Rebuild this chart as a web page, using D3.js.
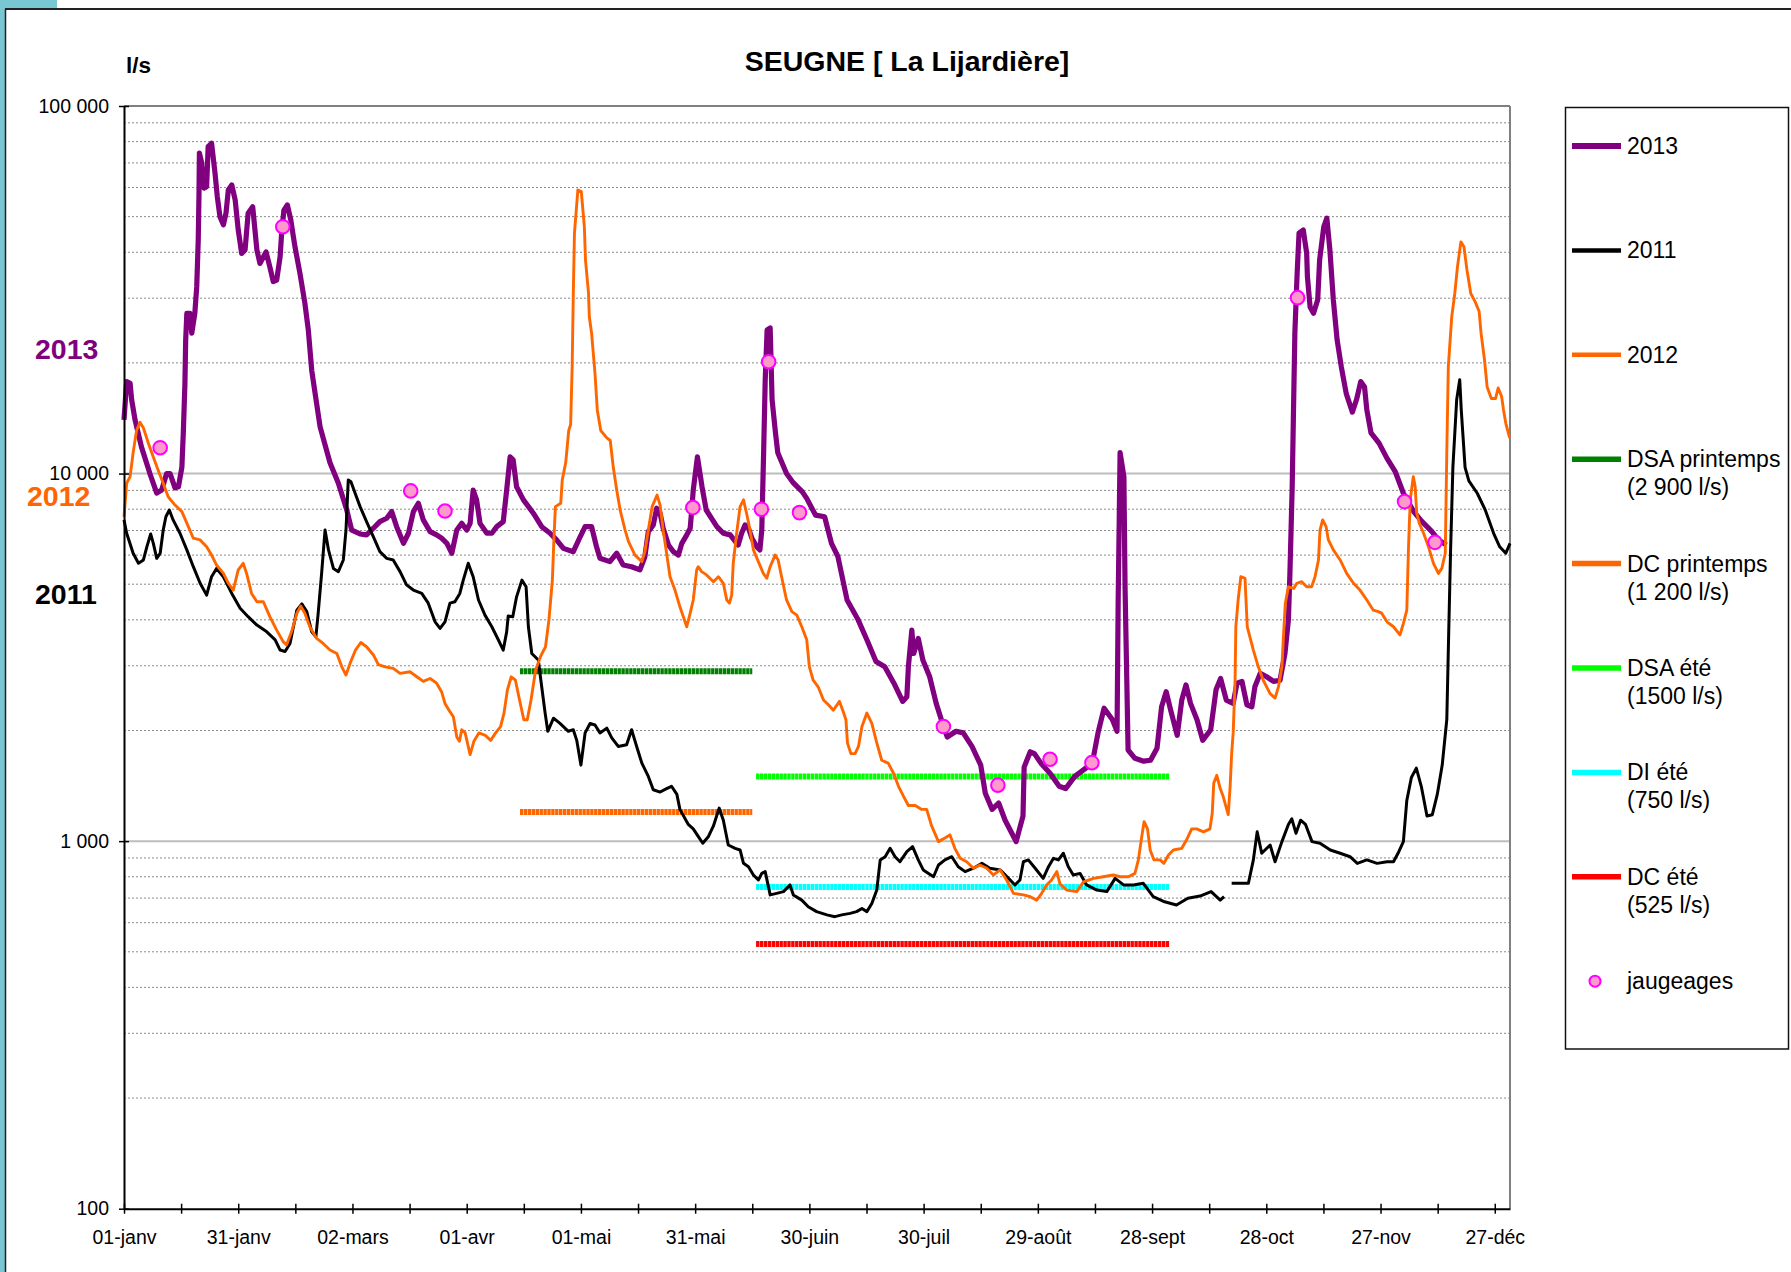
<!DOCTYPE html>
<html>
<head>
<meta charset="utf-8">
<script src="https://cdn.jsdelivr.net/npm/d3@7"></script>
<style>
  body { margin: 0; background: #fff; }
  text { font-family: "Liberation Sans", Arial, sans-serif; }
</style>
</head>
<body>
<div id="chart"></div>
<script>
// débits journaliers : [jour de l'année, l/s]
const serie2013 = [[0,14000],[0.7,17800],[1.6,17600],[2,15900],[2.9,14000],[4.6,11800],[6.8,10000],[8.6,8850],[9.9,9020],[11.2,10000],[12.1,10000],[13.4,9140],[14.3,9210],[15.2,10400],[15.6,13100],[16,17600],[16.2,23100],[16.5,27300],[17.3,27300],[17.8,24100],[18.6,27300],[19.1,32200],[19.5,43200],[19.7,58000],[19.8,74500],[20.4,70000],[21,59800],[21.7,60300],[22.1,77500],[23,79200],[23.9,65700],[24.5,56700],[25.2,50000],[26.1,47500],[26.8,51200],[27.4,59100],[28.3,61000],[29.2,55500],[30,46000],[30.9,39700],[31.8,40600],[32.6,51100],[33.8,53200],[34.9,40600],[35.7,37300],[37.3,40100],[38.3,36500],[39.2,33300],[40.1,33600],[41,38900],[41.4,45100],[42,52100],[42.9,53800],[43.8,49000],[44.9,41400],[46.2,35100],[47.5,29100],[48.4,24600],[49.3,19100],[50.2,16500],[51.5,13400],[54.1,10700],[56.3,9410],[58.5,7960],[59.8,7020],[62,6850],[63.7,6810],[65.5,7100],[67.2,7400],[69,7560],[70.3,7880],[71.6,7170],[73.4,6460],[74.7,6880],[76,7880],[77.3,8300],[78.6,7480],[80.4,6950],[82.1,6810],[83.4,6670],[84.8,6460],[86.1,6070],[87.4,7020],[88.7,7320],[90,7020],[90.9,7320],[91.7,9020],[92.6,8480],[93.5,7320],[95.3,6880],[96.6,6880],[97.9,7170],[99.6,7400],[100.5,9020],[101.4,11100],[102.2,10900],[103.1,9210],[104.9,8480],[107.5,7800],[109.7,7170],[111.9,6880],[113.6,6600],[115.4,6260],[118,6130],[119.8,6730],[121.1,7170],[122.8,7170],[124.1,6320],[125,5880],[127.6,5760],[129.4,6070],[131.1,5640],[133.3,5580],[135.5,5470],[136.8,5940],[137.7,6950],[139,7250],[139.9,8050],[140.8,7800],[141.6,7100],[143,6390],[144.3,6130],[145.6,6000],[146.5,6460],[147.8,6810],[148.7,7100],[149.1,7960],[149.5,9020],[150.6,11100],[151.8,9210],[152.9,7960],[155.7,7170],[157.4,6880],[159.2,6810],[161.3,6390],[162.2,6880],[163.1,7250],[164,7100],[164.9,6670],[166.2,6320],[167,6200],[167.5,7020],[167.7,8650],[168,11600],[168.4,18000],[168.9,24600],[169.7,24900],[170.2,15900],[171.1,12900],[171.7,11400],[174,10000],[175.8,9430],[178.1,8930],[179.3,8560],[181.6,7710],[184,7630],[185.8,6460],[187.5,5940],[189.9,4530],[192.8,4000],[195.1,3530],[197.5,3080],[199.8,2980],[202.2,2690],[204.5,2400],[205.6,2470],[206,2980],[206.9,3750],[207.4,3240],[208.6,3560],[209.8,3110],[211.6,2800],[213.3,2370],[215.1,2070],[216.2,1920],[218.5,1990],[220.4,1970],[222.7,1810],[225,1610],[226.2,1350],[228,1220],[229.7,1270],[231.4,1140],[234.3,997],[236.1,1170],[236.4,1590],[238,1750],[239.1,1730],[240.8,1630],[243.2,1530],[245.6,1410],[247.3,1390],[249.7,1500],[252.6,1580],[254.3,1630],[255.8,1970],[257.4,2300],[259.6,2140],[260.8,1990],[261.1,4530],[261.6,11400],[262.6,9810],[262.9,4920],[263.7,1770],[265.5,1680],[267.8,1650],[269.6,1660],[271.3,1790],[272.5,2320],[273.7,2550],[274.9,2270],[276.6,1940],[277.8,2420],[278.9,2660],[280.1,2370],[281.8,2140],[283.3,1880],[285.4,2010],[286.8,2580],[288,2770],[289.5,2420],[291.3,2370],[292.3,2690],[293.6,2720],[294.9,2350],[296.2,2320],[297,2630],[298.4,2860],[300.1,2800],[301.9,2720],[303.6,2740],[304.9,3240],[305.8,4000],[306.2,5350],[306.8,9210],[307.1,14000],[307.5,24100],[308.1,35100],[308.6,45100],[309.7,46000],[310.6,39800],[310.8,34300],[311.5,28400],[312.4,27300],[313.5,29700],[314,38100],[315.1,47000],[315.9,49500],[316.7,40600],[317.6,29700],[318.6,23100],[319.7,19500],[321,16500],[322.6,14700],[323.7,15900],[324.8,17800],[325.8,17200],[326.4,14900],[327.5,12900],[329.6,12100],[331.7,11000],[333.9,10100],[336,8840],[338.7,7880],[340.9,7400],[343.5,6950],[345.2,6600],[347.3,6390]]

const serie2011 = [[0,7480],[0.7,6880],[2.4,6070],[3.8,5700],[5.1,5820],[6,6320],[7,6850],[7.7,6460],[8.6,5880],[9.5,6070],[10.3,7020],[11,7630],[11.9,7960],[12.9,7480],[14.7,6880],[16.5,6200],[18.2,5580],[20,5030],[21.7,4670],[23,5240],[24.3,5520],[26.1,5240],[28.3,4720],[30.5,4300],[32.6,4080],[34.9,3870],[37.5,3710],[39.7,3530],[41,3310],[42.3,3280],[43.6,3450],[44.5,3830],[45.4,4250],[46.7,4420],[48,4210],[49.3,3710],[50.4,3600],[51,4170],[51.9,5350],[52.8,7020],[53.7,6200],[55,5520],[56.3,5410],[57.6,5820],[58.3,7020],[58.9,9610],[59.6,9500],[60.7,8840],[62,8130],[63.7,7400],[65.5,6730],[67.2,6130],[69,5880],[70.7,5820],[72.5,5410],[74.2,4980],[76,4820],[78.2,4720],[79.9,4440],[81.7,3950],[83,3790],[84.3,3950],[85.6,4440],[86.9,4480],[88.2,4720],[89.1,5130],[90.4,5700],[91.7,5240],[93.1,4530],[94.8,4120],[96.6,3830],[98.3,3530],[99.6,3310],[100.5,3710],[100.9,4100],[102.1,4080],[103.1,4620],[104.5,5130],[105.6,4920],[106.2,3830],[107.1,3240],[108.8,3110],[109.7,2630],[110.6,2230],[111.3,1990],[112.8,2160],[114.5,2090],[116.7,1990],[118,2010],[118.9,1880],[120,1610],[121.1,1970],[122.4,2090],[123.7,2070],[125,1970],[126.8,2030],[128.1,1910],[129.8,1810],[132,1830],[133.3,2010],[134.7,1800],[136,1630],[137.7,1500],[139,1380],[140.8,1360],[142.5,1390],[143.8,1410],[145.2,1340],[146,1220],[148.2,1110],[149.5,1080],[150.8,1030],[152,987],[153.5,1030],[154.8,1100],[156.3,1230],[157.4,1140],[158.7,976],[160.5,956],[161.8,946],[162.7,870],[164,852],[165.3,809],[166.6,784],[167.5,817],[168.4,826],[169.7,714],[171.4,721],[173.2,729],[174.9,760],[175.8,714],[178,691],[179.7,663],[181.9,643],[184.6,630],[186.7,623],[188.5,630],[190.7,636],[192.4,643],[193.8,656],[195.1,643],[196.4,677],[197.7,736],[198.6,889],[199.9,907],[201.2,956],[202.5,907],[203.8,879],[205.6,936],[207.1,966],[208.6,889],[209.9,835],[212.6,800],[213.9,861],[215.6,889],[217.4,907],[219.1,852],[220.9,826],[223.1,844],[225.3,870],[227.4,844],[230.1,835],[232.3,792],[234,760],[235.3,784],[236.2,879],[237.5,889],[239.3,844],[241.4,792],[242.8,852],[244.1,898],[245.4,889],[246.7,927],[248,852],[249.3,809],[251.1,817],[252.8,760],[255.5,736],[258.1,729],[260.3,792],[262.5,760],[265.1,760],[267.7,768],[270.3,706],[273.3,684],[276.4,670],[279.4,699],[282.6,709],[285.5,729],[287.9,691],[288.9,706],null,[290.9,768],[295.3,768],[296.6,889],[297.6,1060],[298.8,927],[301,976],[302.3,879],[304.1,997],[305.8,1110],[306.7,1150],[307.8,1050],[309,1140],[310.3,1110],[312,997],[314.1,987],[316.8,946],[319.4,927],[322,907],[323.9,870],[326.4,889],[329.1,870],[331.7,879],[333.4,879],[334.8,936],[336,997],[336.9,1290],[338.1,1490],[339.4,1580],[340.7,1410],[342.2,1170],[343.6,1180],[344.9,1340],[346.2,1610],[347.4,2140],[347.9,3680],[348.4,6200],[349,10400],[350,15900],[350.8,18000],[351.2,14900],[351.6,12900],[352.2,10400],[353.2,9550],[355.4,8840],[357.5,7960],[359.7,6880],[361.3,6320],[362.9,6070],[364,6460]]

const serie2012 = [[0,7620],[0.7,9410],[1.6,9810],[2.4,11400],[3.3,13100],[4.2,13800],[5.1,13300],[6.4,12100],[7.7,11100],[9,10200],[10.3,9410],[11.6,8650],[13.4,8210],[15.2,7880],[16.9,7170],[18.2,6670],[20,6600],[21.7,6320],[23,6000],[24.3,5640],[26.1,5350],[27.4,5030],[28.7,4820],[30,5470],[31.3,5700],[32.2,5350],[33.5,4720],[34.9,4480],[36.6,4480],[38.3,4080],[40.1,3750],[41.8,3490],[42.7,3420],[44,3710],[45.4,4170],[46.4,4360],[47.5,4170],[48.8,3830],[50.6,3560],[52.3,3450],[54.1,3310],[55.9,3240],[57.2,2980],[58.3,2830],[59.4,3050],[60.8,3310],[62.2,3470],[63.7,3380],[65.5,3210],[66.8,3020],[68.6,2980],[70.7,2950],[72.5,2860],[75.1,2890],[76.9,2800],[78.6,2720],[80.4,2770],[82.1,2690],[83.4,2550],[84.3,2370],[85.6,2250],[86.5,2180],[87.4,1920],[88.1,1870],[88.7,2010],[89.6,1970],[90.9,1720],[91.9,1870],[93.2,1970],[94.9,1940],[96.3,1880],[97.6,1970],[98.9,2050],[99.8,2230],[100.7,2580],[101.7,2800],[102.8,2740],[103.7,2470],[105,2140],[105.9,2140],[106.9,2420],[108.1,2920],[109.4,3180],[110.7,3380],[111.6,4000],[112.5,5130],[112.9,6600],[113.3,8130],[114.7,8300],[115.1,9610],[116,10700],[116.8,13100],[117.3,13600],[117.7,19500],[118,30900],[118.3,45100],[119.2,59100],[120.1,58500],[120.9,47000],[121.2,38100],[122,30900],[122.2,26700],[122.8,24100],[123.7,18700],[124.3,14900],[125.2,13100],[126.8,12500],[127.7,12300],[128.5,10400],[129.4,9020],[130.3,7960],[131.6,7020],[132.5,6530],[134.2,6000],[136,5760],[136.8,6130],[137.7,7020],[138.7,8130],[140,8740],[140.8,8210],[141.6,7020],[142.5,6070],[143.4,5240],[144.7,4820],[146,4340],[147.8,3830],[148.7,4170],[149.5,4530],[150.4,5470],[150.8,5580],[151.7,5410],[153,5300],[154.8,5080],[156.1,5240],[157.4,5030],[158.3,4530],[159,4440],[159.6,4670],[160,5700],[160.9,6880],[161.8,8130],[162.7,8480],[163.5,7800],[164.4,7020],[165.3,6200],[166.6,5760],[167.9,5350],[168.8,5190],[169.7,5580],[171,6000],[171.8,5820],[172.7,5240],[174,4530],[175.4,4210],[176.7,4120],[178,3830],[179.3,3530],[180,2980],[181,2740],[182.3,2630],[183.7,2420],[185,2350],[186.3,2270],[187.9,2400],[188.9,2250],[189.6,2140],[190,1850],[190.9,1730],[192,1730],[192.9,1810],[193.8,2050],[195.1,2230],[196.4,2090],[197.7,1850],[199,1660],[200.7,1630],[202.1,1530],[203.4,1410],[204.8,1320],[206,1250],[207.8,1250],[209.5,1220],[210.8,1220],[212.1,1100],[213.9,997],[215.6,1020],[216.9,1040],[218.2,956],[219.6,898],[221.3,879],[223.1,844],[224.8,861],[226.6,844],[228.3,809],[230.1,835],[231.8,784],[233.6,721],[236.2,714],[238,706],[239.7,691],[241,721],[242.3,760],[243.6,784],[245,826],[245.8,765],[247.6,736],[250.2,729],[252,775],[254.6,792],[257.2,800],[259.8,809],[261.6,800],[263.8,800],[265.5,817],[266.4,889],[267.3,1030],[267.9,1130],[268.8,1080],[269.5,946],[270.5,889],[272.1,889],[273.1,870],[274.3,917],[275.6,946],[277.8,956],[279.1,1010],[280.4,1080],[281.7,1080],[283.5,1060],[285.2,1080],[285.8,1190],[286.2,1440],[287,1510],[287.9,1390],[288.7,1320],[290,1180],[290.5,1410],[290.9,1730],[291.3,1970],[291.8,2740],[292,3830],[292.6,4530],[293.3,5240],[294.4,5190],[295,3830],[296.6,3310],[297.9,2980],[299.2,2740],[301,2520],[302.3,2450],[303.2,2630],[304.1,2980],[304.5,3600],[305,4440],[305.8,4920],[307.2,4870],[308,5030],[309.3,5080],[310.6,4920],[311.9,4920],[312.8,5240],[313.7,5820],[314.1,7020],[314.8,7480],[315.7,7170],[316.3,6600],[317.6,6200],[319.4,5820],[321.1,5350],[322.9,5030],[324.6,4820],[326.4,4530],[328.1,4250],[329.4,4210],[330.3,4170],[331.7,3950],[333.4,3830],[335.1,3640],[336,3910],[336.9,4250],[337.3,6070],[337.6,7480],[337.9,8650],[338.6,9810],[339.1,9210],[339.5,7800],[340.2,7320],[341.3,6880],[342.6,6320],[343.9,5700],[345.2,5350],[346.1,5520],[347,6070],[347.2,8300],[347.4,11400],[347.8,19500],[348.7,26700],[349.5,30900],[350.2,36500],[351.1,42700],[351.9,41400],[352.7,35800],[353.7,30900],[354.8,29400],[355.9,27600],[356.4,24100],[357.3,20400],[358,17200],[359.1,16000],[360.2,16000],[360.9,17100],[361.8,16200],[362.3,14900],[362.9,13700],[363.9,12500]]

const jaugeages = [[9.5,11760],[41.7,46950],[75.3,8970],[84.3,7910],[149.4,8080],[167.4,8000],[169.3,20150],[177.4,7830],[215.2,2050],[229.5,1420],[243.2,1670],[254.2,1635],[308.2,30100],[336.3,8390],[344.3,6500]]

// seuils réglementaires
const seuilNoms = ["DSA printemps", "DC printemps", "DSA été", "DI été", "DC été"]
const seuilLabels = ["(2 900 l/s)", "(1 200 l/s)", "(1500 l/s)", "(750 l/s)", "(525 l/s)"]
const seuilValeurs = [2900, 1200, 1500, 750, 525]
const seuilDebut = [104, 104, 166, 166, 166]
const seuilFin = [165, 165, 274.6, 274.6, 274.6]

const moisLabels = ["01-janv", "31-janv", "02-mars", "01-avr", "01-mai", "31-mai", "30-juin", "30-juil", "29-août", "28-sept", "28-oct", "27-nov", "27-déc"]
const moisJours = [0, 30, 60, 90, 120, 150, 180, 210, 240, 270, 300, 330, 360]
const yTicks = [100, 1000, 10000, 100000]

document.addEventListener("DOMContentLoaded", (e) => {
    var width = 1791,
        height = 1272;

    const seuilCouleurs = ["#008000", "#ff6600", "#00ff00", "#00ffff", "#ff0000"]
    const purple = "#800080", orange = "#ff6600"

    var svg = d3.select('#chart')
        .append('svg')
        .attr("width", width)
        .attr("height", height)
        .style("display", "block")

    svg.append("rect").attr("width", width).attr("height", height).attr("fill", "#fff")

    // bord de la diapositive
    svg.append("rect").attr("x", 0).attr("y", 0).attr("width", 5).attr("height", height).attr("fill", "#79c7d3")
    svg.append("rect").attr("x", 0).attr("y", 0).attr("width", 57).attr("height", 8).attr("fill", "#79c7d3")
    svg.append("line").attr("x1", 5).attr("x2", width).attr("y1", 9).attr("y2", 9).attr("stroke", "#222").attr("stroke-width", 2)
    svg.append("line").attr("x1", 5.5).attr("x2", 5.5).attr("y1", 9).attr("y2", height).attr("stroke", "#222").attr("stroke-width", 1.5)

    var x = d3.scaleLinear().domain([0, 364]).range([124, 1510])
    var y = d3.scaleLog().domain([100, 100000]).range([1208.7, 106])

    // quadrillage
    let minor = []
    for (let dec = 100; dec < 100000; dec *= 10) {
        for (let k = 2; k <= 9; k++) minor.push(k * dec)
    }
    svg.append("g").selectAll("line")
        .data(minor)
        .enter().append("line")
        .attr("x1", x(0)).attr("x2", x(364))
        .attr("y1", d => y(d)).attr("y2", d => y(d))
        .attr("stroke", "#8a8a8a")
        .attr("stroke-width", 1)
        .attr("stroke-dasharray", "2,2")

    svg.append("g").selectAll("line")
        .data([1000, 10000])
        .enter().append("line")
        .attr("x1", x(0)).attr("x2", x(364))
        .attr("y1", d => y(d)).attr("y2", d => y(d))
        .attr("stroke", "#bdbdbd")
        .attr("stroke-width", 2)

    svg.append("line")
        .attr("x1", x(0)).attr("x2", x(364))
        .attr("y1", y(100000)).attr("y2", y(100000))
        .attr("stroke", "#808080").attr("stroke-width", 2)
    svg.append("line")
        .attr("x1", x(364)).attr("x2", x(364))
        .attr("y1", y(100000)).attr("y2", y(100))
        .attr("stroke", "#808080").attr("stroke-width", 2)

    // seuils
    svg.append("g").selectAll("line")
        .data(seuilValeurs)
        .enter().append("line")
        .attr("x1", (d, i) => x(seuilDebut[i]))
        .attr("x2", (d, i) => x(seuilFin[i]))
        .attr("y1", d => y(d)).attr("y2", d => y(d))
        .attr("stroke", (d, i) => seuilCouleurs[i])
        .attr("stroke-width", 6)
        .attr("stroke-dasharray", "3.4,0.5")

    let line = d3.line()
        .defined(d => d !== null)
        .x(d => x(d[0]))
        .y(d => y(d[1]))

    svg.append("path").datum(serie2013)
        .attr("d", line)
        .attr("fill", "none").attr("stroke", purple)
        .attr("stroke-width", 5.2).attr("stroke-linejoin", "round")

    svg.append("path").datum(serie2011)
        .attr("d", line)
        .attr("fill", "none").attr("stroke", "#000")
        .attr("stroke-width", 3).attr("stroke-linejoin", "round")

    svg.append("path").datum(serie2012)
        .attr("d", line)
        .attr("fill", "none").attr("stroke", orange)
        .attr("stroke-width", 2.9).attr("stroke-linejoin", "round")

    svg.append("g").selectAll("circle")
        .data(jaugeages)
        .enter().append("circle")
        .attr("cx", d => x(d[0]))
        .attr("cy", d => y(d[1]))
        .attr("r", 6.8)
        .attr("fill", "#ff99cc")
        .attr("stroke", "#ff00ff")
        .attr("stroke-width", 2)

    // axes
    let fr = d3.formatLocale({decimal: ",", thousands: " ", grouping: [3], currency: ["", " €"]})
    let fmt = fr.format(",")

    let yAxis = svg.append("g")
        .attr("transform", "translate(" + x(0) + ",0)")
        .call(d3.axisLeft(y).tickValues(yTicks).tickFormat(fmt).tickSize(5).tickSizeOuter(0))
    yAxis.select(".domain").attr("stroke", "#000").attr("stroke-width", 2)
    yAxis.selectAll(".tick line").attr("x1", 5).attr("stroke-width", 1.5)
    yAxis.selectAll(".tick text")
        .attr("x", -15)
        .attr("font-size", "19.5px")
        .attr("font-family", "Liberation Sans, Arial, sans-serif")
        .attr("fill", "#000")

    let xAxis = svg.append("g")
        .attr("transform", "translate(0," + y(100) + ")")
        .call(d3.axisBottom(x)
            .tickValues(d3.range(0, 361, 15))
            .tickFormat(d => moisJours.indexOf(d) >= 0 ? moisLabels[moisJours.indexOf(d)] : "")
            .tickSize(5).tickSizeOuter(0))
    xAxis.select(".domain").attr("stroke", "#000").attr("stroke-width", 2)
    xAxis.selectAll(".tick line").attr("y1", -5).attr("stroke-width", 1.5)
    xAxis.selectAll(".tick text")
        .attr("y", 21)
        .attr("font-size", "19.5px")
        .attr("font-family", "Liberation Sans, Arial, sans-serif")
        .attr("fill", "#000")

    // titres
    svg.append("text")
        .attr("x", 907).attr("y", 71)
        .attr("text-anchor", "middle")
        .attr("font-size", "28.5px").attr("font-weight", "bold")
        .text("SEUGNE [ La Lijardière]")

    svg.append("text")
        .attr("x", 126).attr("y", 73)
        .attr("font-size", "22.5px").attr("font-weight", "bold")
        .text("l/s")

    let yearTags = [["2013", purple, 35, 359], ["2012", orange, 27, 506], ["2011", "#000", 35, 604]]
    svg.append("g").selectAll("text")
        .data(yearTags)
        .enter().append("text")
        .attr("x", d => d[2])
        .attr("y", d => d[3])
        .attr("fill", d => d[1])
        .attr("font-size", "28.5px").attr("font-weight", "bold")
        .text(d => d[0])

    // légende
    let legend = svg.append("g")
    legend.append("rect")
        .attr("x", 1565.5).attr("y", 107.5)
        .attr("width", 223).attr("height", 941.5)
        .attr("fill", "#fff").attr("stroke", "#111").attr("stroke-width", 1.5)

    let items = [
        {label: ["2013"], color: purple, w: 6},
        {label: ["2011"], color: "#000", w: 4.5},
        {label: ["2012"], color: orange, w: 4.5}
    ]
    seuilNoms.forEach((n, i) => items.push({label: [n, seuilLabels[i]], color: seuilCouleurs[i], w: 5.5}))
    items.push({label: ["jaugeages"], marker: true})

    items.forEach((it, i) => {
        let cy = 146 + i * 104.4
        if (it.marker) {
            legend.append("circle")
                .attr("cx", 1595).attr("cy", cy).attr("r", 5.5)
                .attr("fill", "#ff99cc").attr("stroke", "#ff00ff").attr("stroke-width", 2)
        } else {
            legend.append("line")
                .attr("x1", 1572).attr("x2", 1621)
                .attr("y1", cy).attr("y2", cy)
                .attr("stroke", it.color).attr("stroke-width", it.w)
        }
        it.label.forEach((t, j) => {
            legend.append("text")
                .attr("x", 1627).attr("y", cy + j * 28)
                .attr("dy", "0.35em")
                .attr("font-size", "23px")
                .text(t)
        })
    })
})
</script>
</body>
</html>
